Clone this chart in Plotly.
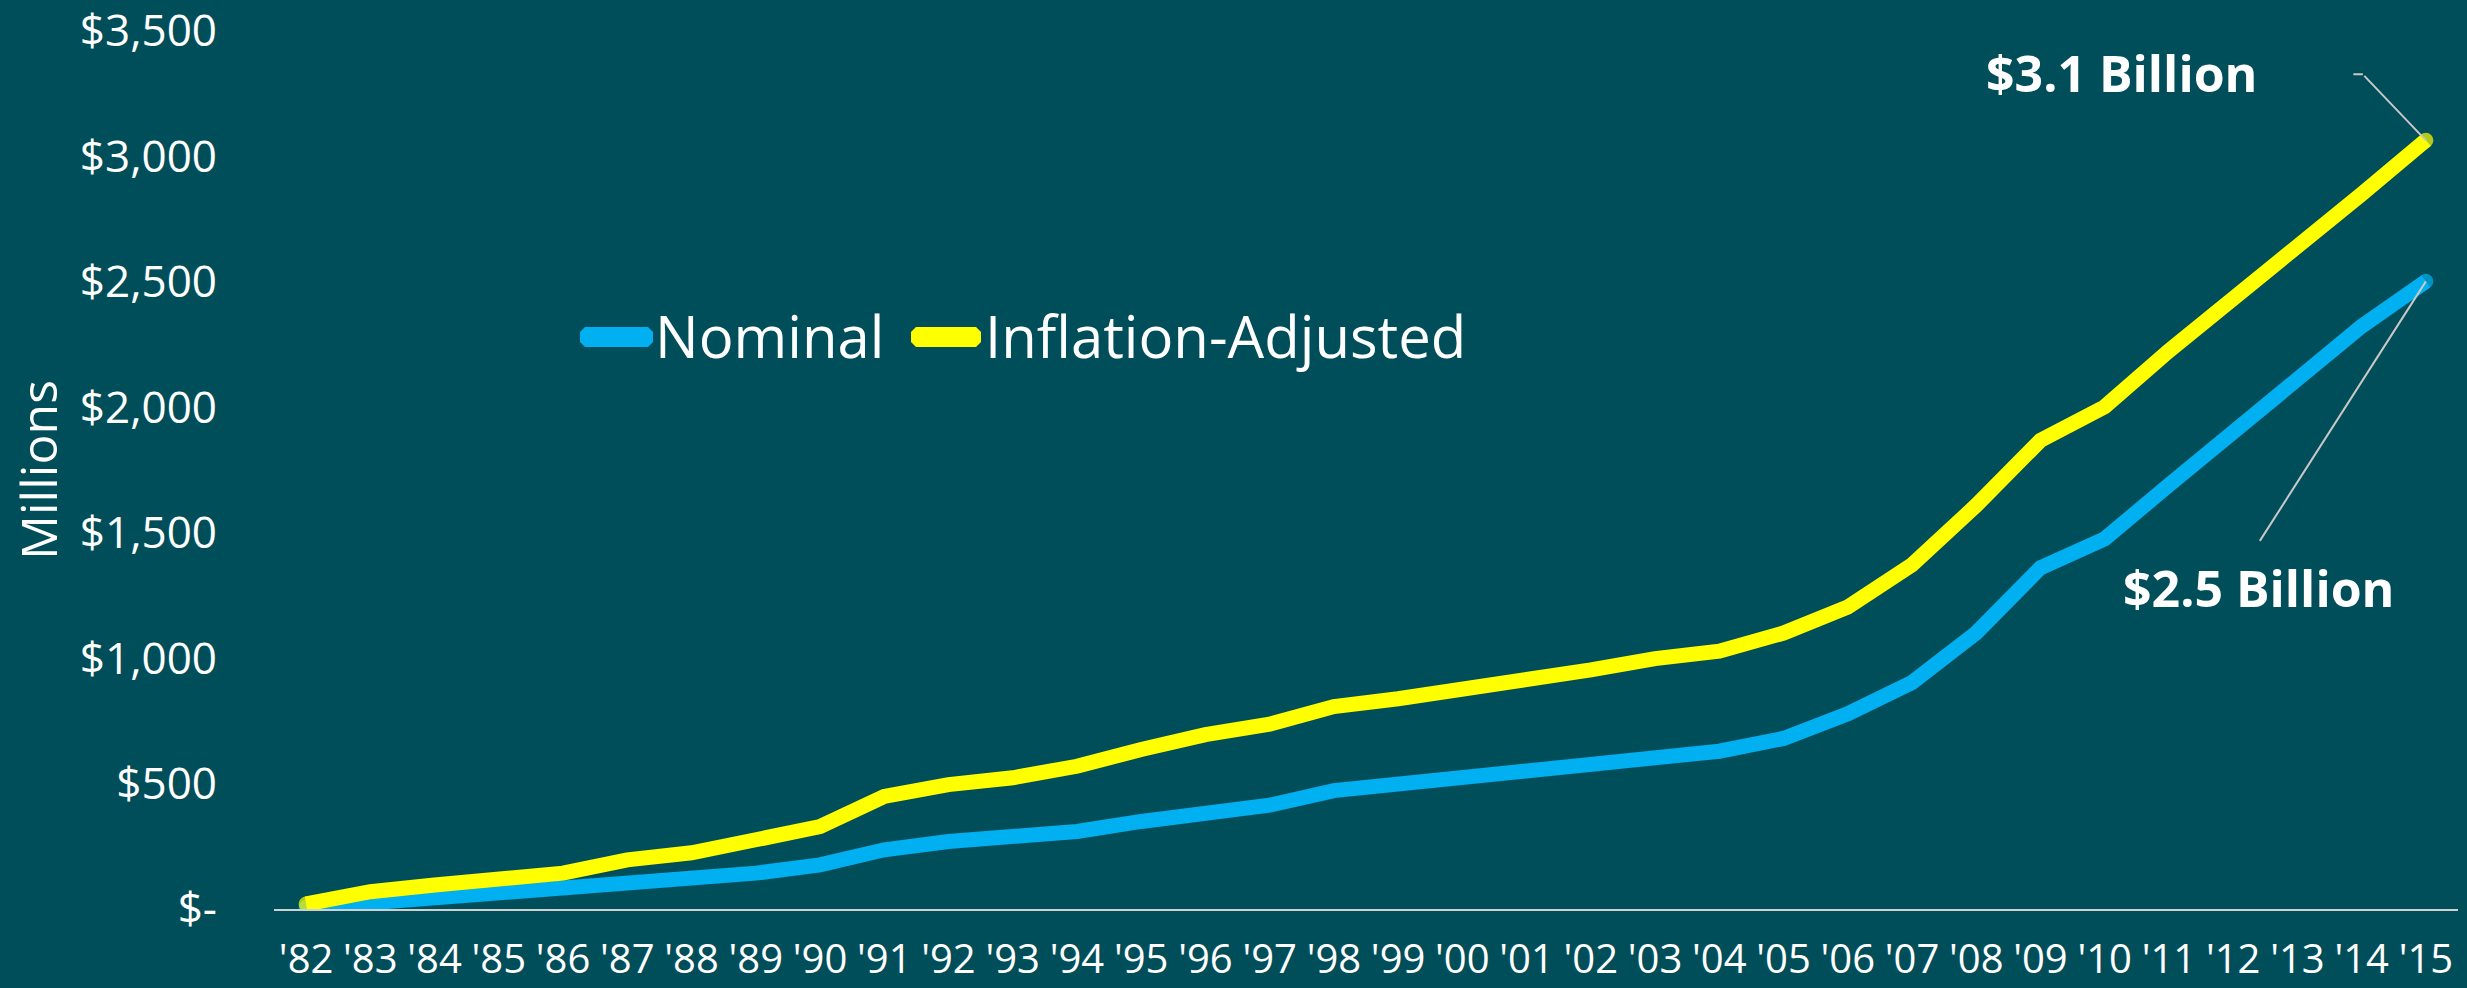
import plotly.graph_objects as go

years = ["'82", "'83", "'84", "'85", "'86", "'87", "'88", "'89", "'90", "'91",
         "'92", "'93", "'94", "'95", "'96", "'97", "'98", "'99", "'00", "'01",
         "'02", "'03", "'04", "'05", "'06", "'07", "'08", "'09", "'10", "'11",
         "'12", "'13", "'14", "'15"]
nominal = [5, 24, 44, 56, 76, 103, 116, 143, 176, 236,
           269, 283, 309, 349, 389, 414, 472, 496, 518, 545,
           576, 602, 629, 680, 778, 903, 1101, 1360, 1476, 1690,
           1904, 2100, 2323, 2502]
inflation = [20, 69, 96, 116, 143, 196, 224, 276, 329, 449,
             496, 523, 569, 636, 695, 737, 807, 838, 873, 909,
             953, 998, 1028, 1100, 1204, 1372, 1609, 1868, 2002, 2225,
             2430, 2627, 2850, 3064]
series_names = ["Nominal", "Inflation-Adjusted"]
y_tickvals = [0, 500, 1000, 1500, 2000, 2500, 3000, 3500]
y_ticktext = ["$-", "$500", "$1,000", "$1,500", "$2,000", "$2,500", "$3,000", "$3,500"]
callout_texts = ["$2.5 Billion", "$3.1 Billion"]

BG = "#004e5a"
BLUE = "#00b0f0"
YELLOW = "#ffff00"
GRAY = "#c8c8c8"

W, H = 2467, 988
ML, MR, MT, MB = 274, 9, 31, 79
PW, PH = W - ML - MR, H - MT - MB


def fx(px):
    return (px - ML) / PW


def fy(py):
    return (H - MB - py) / PH


fig = go.Figure()
n = len(years)
cap_sizes = [15 if i in (0, n - 1) else 0 for i in range(n)]
for vals, name, col in [(nominal, series_names[0], BLUE), (inflation, series_names[1], YELLOW)]:
    fig.add_trace(go.Scatter(
        x=years, y=vals, name=name, mode="lines+markers",
        line=dict(color=col, width=15),
        marker=dict(color=col, size=cap_sizes, line=dict(width=0)),
        showlegend=False,
    ))

# custom legend
shapes = []
annotations = []


def legend_symbol(x0, x1, yc, col, h=20, c=5):
    y0, y1 = yc - h / 2, yc + h / 2
    pts = [(x0 + c, y0), (x1 - c, y0), (x1, y0 + c), (x1, y1 - c),
           (x1 - c, y1), (x0 + c, y1), (x0, y1 - c), (x0, y0 + c)]
    path = "M " + " L ".join(f"{fx(a):.5f},{fy(b):.5f}" for a, b in pts) + " Z"
    return dict(type="path", xref="paper", yref="paper", path=path,
                fillcolor=col, line=dict(width=0), layer="above")


shapes.append(legend_symbol(580, 653, 337, BLUE))
shapes.append(legend_symbol(911, 981, 337, YELLOW))
leg_font = dict(family="Open Sans, sans-serif", size=58, color="white")
annotations.append(dict(xref="paper", yref="paper", x=fx(653), y=fy(335), text=series_names[0],
                        showarrow=False, xanchor="left", yanchor="middle", font=leg_font))
annotations.append(dict(xref="paper", yref="paper", x=fx(983), y=fy(335), text=series_names[1],
                        showarrow=False, xanchor="left", yanchor="middle", font=leg_font))

# callouts
call_font = dict(family="Open Sans, sans-serif", size=50, color="white", weight="bold")
annotations.append(dict(x=years[-1], y=inflation[-1], text="", showarrow=True, arrowhead=0,
                        arrowwidth=2, arrowcolor=GRAY, ax=-63, ay=-66, standoff=0))
annotations.append(dict(x=years[-1], y=inflation[-1], text="", showarrow=True, arrowhead=0,
                        arrowwidth=2, arrowcolor=GRAY, ax=-11, ay=0, xshift=-63, yshift=66,
                        standoff=0))
annotations.append(dict(x=years[-1], y=nominal[-1], text="", showarrow=True, arrowhead=0,
                        arrowwidth=2, arrowcolor=GRAY, ax=-167, ay=261, standoff=0))
annotations.append(dict(x=years[-1], y=inflation[-1], text=callout_texts[1], showarrow=False,
                        xanchor="center", yanchor="middle", xshift=-304, yshift=67, font=call_font))
annotations.append(dict(x=years[-1], y=nominal[-1], text=callout_texts[0], showarrow=False,
                        xanchor="center", yanchor="middle", xshift=-167, yshift=-307, font=call_font))

fig.update_layout(
    width=W, height=H,
    margin=dict(l=ML, r=MR, t=MT, b=MB, pad=0, autoexpand=False),
    paper_bgcolor=BG, plot_bgcolor=BG,
    shapes=shapes, annotations=annotations,
    showlegend=False,
    xaxis=dict(
        type="category", range=[-0.5, n - 0.5], automargin=False,
        showgrid=False, zeroline=False,
        showline=True, linecolor="#d0d0d0", linewidth=2, layer="below traces",
        ticks="", tickangle=0,
        tickfont=dict(family="Open Sans, sans-serif", size=40, color="white"),
        ticklabelstandoff=14,
        fixedrange=True,
    ),
    yaxis=dict(
        range=[0, 3500], tickvals=y_tickvals, ticktext=y_ticktext, automargin=False,
        showgrid=False, zeroline=False, showline=False, ticks="",
        ticklabeloverflow="allow",
        tickfont=dict(family="Open Sans, sans-serif", size=44, color="white"),
        ticklabelstandoff=56,
        title=dict(text="Millions", font=dict(family="Open Sans, sans-serif", size=50, color="white"),
                   standoff=6),
        fixedrange=True,
    ),
)

fig.write_html(
    "out.html",
    config={"displayModeBar": False},
    post_script="document.body.style.margin='0';document.body.style.overflow='hidden';"
                "document.body.style.background='" + BG + "';",
)
